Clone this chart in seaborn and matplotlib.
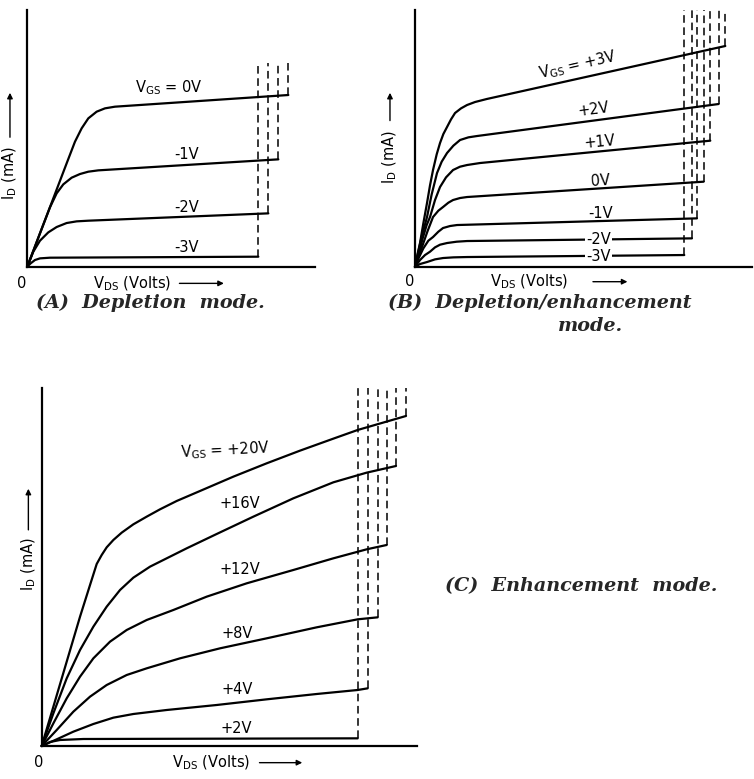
import matplotlib
matplotlib.use('Agg')
import matplotlib.pyplot as plt
import seaborn as sns
import pandas as pd

# %% data (arbitrary units, origin at 0,0)

# (A) depletion mode
a_vgs = ['0V', '-1V', '-2V', '-3V']
a_vds = [
    [0, 3.8, 7.8, 11.8, 14.3, 16.3, 18.3, 20.8, 23.3, 26.3, 78.3],
    [0, 3.8, 6.8, 8.8, 10.8, 13.3, 15.8, 18.3, 21.3, 75.3],
    [0, 1.8, 3.8, 6.3, 8.8, 11.8, 14.8, 18.3, 72.3],
    [0, 1.0, 2.3, 3.8, 6.8, 69.3],
]
a_id = [
    [0, 10.0, 20.5, 31.0, 37.5, 41.5, 44.5, 46.5, 47.5, 48.0, 51.5],
    [0, 10.0, 17.8, 22.0, 24.7, 26.7, 27.8, 28.5, 28.9, 32.2],
    [0, 4.5, 7.8, 10.3, 11.9, 13.1, 13.6, 13.8, 16.0],
    [0, 1.0, 2.0, 2.5, 2.7, 3.0],
]

# (B) depletion/enhancement mode
b_vgs = ['+3V', '+2V', '+1V', '0V', '-1V', '-2V', '-3V']
b_vds = [
    [0, 0.7, 1.5, 2.5, 3.6, 4.5, 5.4, 6.5, 7.5, 8.5, 9.6, 10.8, 12.0, 13.8, 15.6, 18.0, 21.5, 93.0],
    [0, 1.0, 2.0, 3.6, 5.0, 6.6, 8.0, 9.6, 11.5, 13.5, 16.0, 18.6, 91.0],
    [0, 1.0, 2.3, 3.5, 4.5, 6.0, 7.5, 9.3, 11.4, 13.5, 15.6, 19.5, 88.5],
    [0, 1.0, 2.3, 3.7, 5.4, 7.0, 8.4, 10.0, 11.4, 13.5, 15.6, 86.5],
    [0, 1.2, 2.5, 4.0, 5.4, 7.0, 8.4, 10.5, 12.6, 84.5],
    [0, 1.5, 3.0, 4.5, 6.0, 7.5, 9.6, 12.5, 15.6, 83.0],
    [0, 1.5, 3.6, 6.0, 8.4, 11.5, 15.6, 80.7],
]
b_id = [
    [0, 3.5, 7.1, 13.0, 19.1, 24.4, 29.0, 33.7, 37.1, 39.8, 41.9, 44.2, 46.1, 47.5, 48.5, 49.4, 50.3, 66.2],
    [0, 4.5, 9.0, 14.9, 21.7, 28.1, 31.5, 34.1, 36.3, 38.0, 38.8, 39.2, 48.8],
    [0, 3.5, 8.5, 12.5, 14.9, 20.0, 23.9, 26.8, 29.0, 30.0, 30.5, 31.1, 37.8],
    [0, 3.0, 6.5, 10.5, 14.9, 16.8, 17.9, 19.2, 20.0, 20.6, 20.9, 25.5],
    [0, 2.8, 5.5, 7.8, 8.9, 10.5, 11.6, 12.2, 12.5, 14.5],
    [0, 2.0, 3.5, 4.5, 5.8, 6.6, 7.1, 7.5, 7.7, 8.5],
    [0, 0.8, 1.4, 2.2, 2.6, 2.8, 2.9, 3.5],
]

# (C) enhancement mode
c_vgs = ['+20V', '+16V', '+12V', '+8V', '+4V', '+2V']
c_vds = [
    [0, 3.5, 7.5, 11.5, 14.5, 16.5, 18.0, 19.5, 21.5, 24.0, 27.5, 31.5, 35.5, 40.5, 47.5, 57.5, 67.5, 77.5, 87.5, 94.8, 109.3],
    [0, 3.5, 7.5, 11.5, 15.5, 19.5, 23.5, 27.5, 32.5, 37.5, 43.5, 52.5, 63.5, 75.5, 87.5, 97.5, 106.3],
    [0, 3.5, 7.5, 11.5, 15.5, 20.5, 25.5, 31.5, 39.5, 49.5, 61.5, 75.5, 87.5, 97.5, 103.5],
    [0, 4.5, 9.5, 14.5, 19.5, 25.5, 31.5, 41.5, 53.5, 67.5, 82.5, 94.8, 100.8],
    [0, 4.5, 9.5, 15.5, 21.5, 27.5, 37.5, 52.5, 67.5, 82.5, 94.8, 97.8],
    [0, 2.5, 5.5, 12.5, 94.8],
]
c_id = [
    [0, 11.8, 25.3, 38.8, 48.3, 54.6, 57.3, 59.6, 61.8, 64.0, 66.5, 68.8, 71.0, 73.5, 76.5, 80.8, 84.8, 88.6, 92.2, 94.8, 99.0],
    [0, 9.8, 20.3, 28.8, 35.8, 41.8, 46.8, 50.5, 53.8, 56.3, 59.3, 63.6, 68.8, 74.3, 79.1, 82.0, 84.0],
    [0, 6.8, 14.3, 20.8, 26.3, 31.3, 34.8, 37.8, 40.8, 44.8, 48.8, 52.8, 56.3, 59.0, 60.3],
    [0, 4.8, 10.3, 14.8, 18.3, 21.3, 23.3, 26.3, 29.3, 32.3, 35.6, 38.0, 38.6],
    [0, 2.0, 4.3, 6.6, 8.5, 9.6, 10.8, 12.3, 14.0, 15.6, 16.8, 17.3],
    [0, 1.2, 1.8, 2.1, 2.3],
]


def to_frame(vgs, vds, ids):
    rows = []
    for name, xs, ys in zip(vgs, vds, ids):
        for x, y in zip(xs, ys):
            rows.append({'vgs': name, 'vds': x, 'id': y})
    return pd.DataFrame(rows)


# %% layout

sns.set_style('white')
plt.rcParams['font.family'] = ['DejaVu Sans']
W, H = 754, 779
fig = plt.figure(figsize=(W / 100, H / 100), dpi=100)


def make_ax(x0, y0, x1, y1):
    # pixel box -> figure fraction
    return fig.add_axes([x0 / W, 1 - y1 / H, (x1 - x0) / W, (y1 - y0) / H])


lab_font = dict(family='DejaVu Sans', fontsize=10.5, color='black')


def draw_panel(ax, vgs, vds, ids, xmax, ymax, dash_top):
    df = to_frame(vgs, vds, ids)
    sns.lineplot(data=df, x='vds', y='id', hue='vgs', palette=['black'] * len(vgs),
                 sort=False, estimator=None, legend=False, lw=1.6, ax=ax, clip_on=False)
    ends_x = [xs[-1] for xs in vds]
    ends_y = [ys[-1] for ys in ids]
    ax.vlines(ends_x, ends_y, dash_top, colors='black', lw=1.1, linestyles=(0, (5, 3)))
    ax.set_xlim(0, xmax)
    ax.set_ylim(0, ymax)
    ax.set_xticks([])
    ax.set_yticks([])
    ax.set_xlabel('')
    ax.set_ylabel('')
    sns.despine(ax=ax)
    for s in ['left', 'bottom']:
        ax.spines[s].set_linewidth(1.6)
        ax.spines[s].set_color('black')
    ax.patch.set_alpha(0)


def axis_text(ax, zero_xy, xlab_x, xarrow, ylab_x, ylab_y, yarrow):
    ax.text(*zero_xy, '0', ha='center', va='center', clip_on=False, **lab_font)
    ax.text(xlab_x, zero_xy[1], r'V$_{\mathregular{DS}}$ (Volts)', ha='left', va='center',
            clip_on=False, **lab_font)
    ax.annotate('', xy=(xarrow[1], zero_xy[1]), xytext=(xarrow[0], zero_xy[1]),
                annotation_clip=False,
                arrowprops=dict(arrowstyle='-|>', color='black', lw=1.0, mutation_scale=8))
    ax.text(ylab_x, ylab_y, r'I$_{\mathregular{D}}$ (mA)', ha='center', va='center',
            rotation=90, clip_on=False, **lab_font)
    ax.annotate('', xy=(ylab_x, yarrow[1]), xytext=(ylab_x, yarrow[0]),
                annotation_clip=False,
                arrowprops=dict(arrowstyle='-|>', color='black', lw=1.0, mutation_scale=8))


# --- (A) ---
ax_a = make_ax(27.3, 10, 315, 266.7)
draw_panel(ax_a, a_vgs, a_vds, a_id, 86.3, 77.0, 61.0)
ax_a.text(42.5, 53.8, r'V$_{\mathregular{GS}}$ = 0V', ha='center', va='center', **lab_font)
for name, (x, y) in zip(a_vgs[1:], [(47.8, 33.8), (47.8, 17.8), (47.8, 5.8)]):
    ax_a.text(x, y, name, ha='center', va='center', **lab_font)
axis_text(ax_a, (-1.7, -5.0), 19.8, (44.8, 59.8), -5.2, 28.0, (38.0, 53.0))

# --- (B) ---
ax_b = make_ax(415, 10, 752, 266.7)
draw_panel(ax_b, b_vgs, b_vds, b_id, 101.0, 77.0, 77.0)
ax_b.text(48.7, 60.5, r'V$_{\mathregular{GS}}$ = +3V', ha='center', va='center',
          rotation=12.8, rotation_mode='anchor', **lab_font)
b_pos = [(53.5, 47.3, 7.5), (55.5, 37.3, 5.5), (55.5, 25.8, 3.5), (55.5, 16.0, 0),
         (55.0, 8.2, 0), (55.0, 3.2, 0)]
for name, (x, y, r) in zip(b_vgs[1:], b_pos):
    box = dict(facecolor='white', edgecolor='none', pad=1) if y < 10 else None
    ax_b.text(x, y, name, ha='center', va='center', rotation=r, bbox=box, **lab_font)
axis_text(ax_b, (-1.7, -4.5), 22.5, (52.5, 64.5), -7.5, 33.0, (43.0, 53.0))

# --- (C) ---
ax_c = make_ax(41.7, 388.3, 416.7, 746)
draw_panel(ax_c, c_vgs, c_vds, c_id, 112.5, 107.3, 107.3)
ax_c.text(55.0, 88.8, r'V$_{\mathregular{GS}}$ = +20V', ha='center', va='center',
          rotation=3, **lab_font)
c_pos = [(59.5, 72.8), (59.5, 52.8), (58.5, 33.8), (58.5, 17.0), (58.5, 5.3)]
for name, (x, y) in zip(c_vgs[1:], c_pos):
    ax_c.text(x, y, name, ha='center', va='center', **lab_font)
axis_text(ax_c, (-1.0, -5.0), 39.0, (64.5, 79.0), -4.0, 54.5, (64.0, 78.0))

# --- captions ---
cap = dict(family='DejaVu Serif', fontweight='bold', fontstyle='italic', fontsize=13.8)
fig.text(36 / W, 1 - 303 / H, '(A)  Depletion  mode.', ha='left', va='center', **cap)
fig.text(388 / W, 1 - 303 / H, '(B)  Depletion/enhancement', ha='left', va='center', **cap)
fig.text(590 / W, 1 - 326 / H, 'mode.', ha='center', va='center', **cap)
fig.text(445 / W, 1 - 586 / H, '(C)  Enhancement  mode.', ha='left', va='center', **cap)

fig.savefig('out.png', dpi=100)
